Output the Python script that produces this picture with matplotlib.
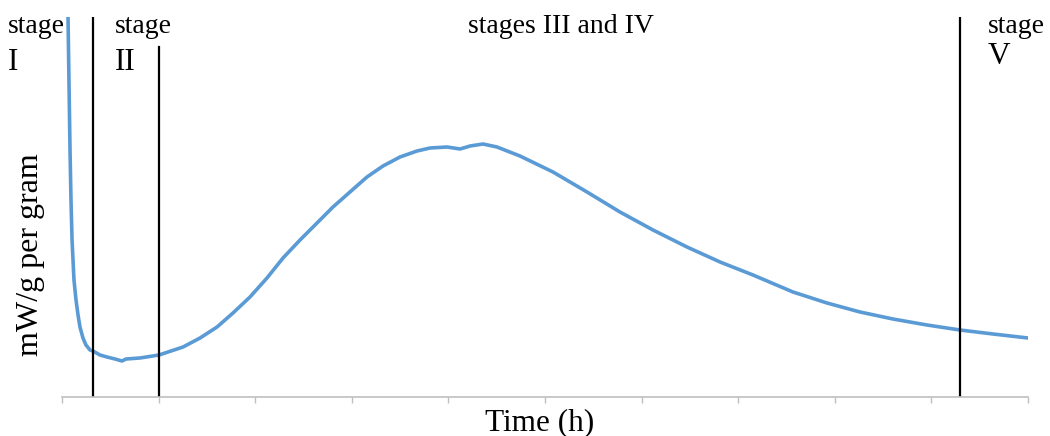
import matplotlib.pyplot as plt

# heat flow curve (time in axis units 0..10, arbitrary heat units)
time = [0.062, 0.072, 0.083, 0.093, 0.104, 0.124, 0.145, 0.166, 0.186, 0.217,
        0.248, 0.290, 0.321, 0.393, 0.466, 0.549, 0.621, 0.663, 0.807, 1.004,
        1.253, 1.429, 1.605, 1.770, 1.946, 2.122, 2.288, 2.464, 2.640, 2.805,
        2.981, 3.157, 3.323, 3.499, 3.675, 3.810, 3.986, 4.120, 4.224, 4.358,
        4.503, 4.741, 5.083, 5.435, 5.776, 6.118, 6.470, 6.812, 7.153, 7.567,
        7.919, 8.261, 8.602, 8.954, 9.296, 9.638, 10.0]
heat = [38.2, 31.7, 24.7, 19.7, 15.7, 11.7, 9.7, 8.2, 7.0, 5.9,
        5.2, 4.7, 4.6, 4.2, 4.0, 3.8, 3.6, 3.8, 3.9, 4.2,
        5.0, 5.9, 7.0, 8.4, 10.0, 11.9, 13.9, 15.7, 17.4, 19.0,
        20.5, 22.0, 23.1, 24.0, 24.6, 24.9, 25.0, 24.8, 25.1, 25.3,
        25.0, 24.1, 22.5, 20.5, 18.5, 16.7, 15.0, 13.5, 12.2, 10.5,
        9.4, 8.5, 7.8, 7.2, 6.7, 6.3, 5.9]

# stage boundaries (x position, top of line)
stage_x = [0.321, 1.004, 9.296]
stage_top = [38.0, 35.0, 38.0]

plt.rcParams['font.family'] = ['Liberation Serif', 'DejaVu Serif']

fig = plt.figure(figsize=(10.5, 4.36), dpi=100)
ax = fig.add_axes([62 / 1050, 39 / 436, 966 / 1050, 380 / 436])

ax.plot(time, heat, color='#5B9BD5', lw=2.6, solid_capstyle='round',
        solid_joinstyle='round')
for x, top in zip(stage_x, stage_top):
    ax.plot([x, x], [0, top], color='black', lw=1.6)

ax.set_xlim(0, 10)
ax.set_ylim(0, 38)
ax.set_xticks(range(11))
ax.set_xticklabels([])
ax.set_yticks([])
ax.tick_params(axis='x', direction='out', length=4.5, width=1, color='#BFBFBF')
for s in ['left', 'right', 'top']:
    ax.spines[s].set_visible(False)
ax.spines['bottom'].set_color('#BFBFBF')
ax.spines['bottom'].set_linewidth(1.2)

# labels
def ftext(px, py, s, fs=20, **kw):
    fig.text(px / 1050, 1 - py / 436, s, fontsize=fs, va='baseline', **kw)

ftext(8, 33, 'stage')
ftext(8, 70, 'I', fs=22.5)
ftext(115, 33, 'stage')
ftext(115, 70, 'II', fs=22.5)
ftext(561, 33, 'stages III and IV', ha='center')
ftext(988, 33, 'stage')
ftext(988, 64, 'V', fs=22.5)

fig.text(540 / 1050, 1 - 430 / 436, 'Time (h)', fontsize=22.5, ha='center', va='baseline')
fig.text(31 / 1050, 1 - 255 / 436, 'mW/g per gram', fontsize=23, rotation=90,
         ha='center', va='center')

fig.savefig('out.png', dpi=100)
